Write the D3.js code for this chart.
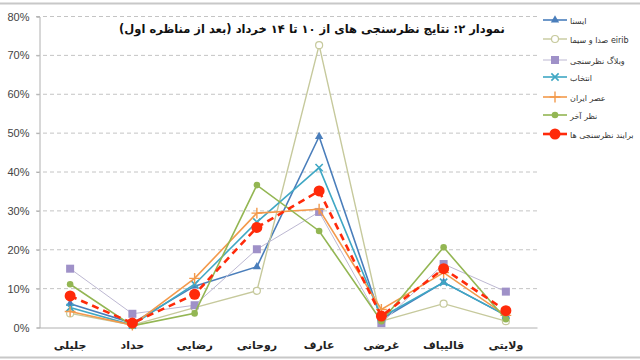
<!DOCTYPE html>
<html>
<head>
<meta charset="utf-8">
<script src="https://cdn.jsdelivr.net/npm/d3@7"></script>
<style>
  body { margin: 0; background: #fff; }
  svg { display: block; }
</style>
</head>
<body>
<div id="vizcontainer"></div>
<script>
const categories = ['جلیلی', 'حداد', 'رضایی', 'روحانی', 'عارف', 'غرضی', 'قالیباف', 'ولایتی'];
const seriesNames = ['ایسنا', 'صدا و سیما eirib', 'وبلاگ نظرسنجی', 'انتخاب', 'عصر ایران', 'نظر آخر', 'برایند نظرسنجی ها'];
const isna   = [6, 1, 10.5, 15.5, 49, 2, 11.5, 3];
const eirib  = [3.5, 0.5, 5, 9.3, 72.5, 1.5, 6, 1.5];
const weblog = [15, 3.4, 5.6, 20, 29.6, 1, 16.2, 9.1];
const entekhab = [5, 0.5, 11, 27, 41, 2.5, 11.5, 3];
const asrIran  = [4, 0.5, 12.5, 29.3, 30.3, 4.5, 14, 3];
const nazarAkhar = [11, 0.3, 3.5, 36.5, 24.7, 1.5, 20.5, 2];
const barayand   = [8, 1, 8.4, 25.6, 35, 2.8, 15, 4.2];
const yTicks = [0, 10, 20, 30, 40, 50, 60, 70, 80];
const title = 'نمودار ۲: نتایج نظرسنجی های از ۱۰ تا ۱۴ خرداد (بعد از مناظره اول)';

const width = 640, height = 360;
const fa = '"DejaVu Sans", sans-serif';

const styles = [
  { color: '#4a7ebb', marker: 'triangle', fill: '#4a7ebb', w: 1.6 },
  { color: '#c6c99c', marker: 'circle-open', fill: '#fff', w: 1.4 },
  { color: '#bdb8d2', marker: 'square', fill: '#9f91c8', w: 1 },
  { color: '#3fa7c4', marker: 'x', fill: '#3fa7c4', w: 1.6 },
  { color: '#f39a4c', marker: 'plus', fill: '#f39a4c', w: 1.6 },
  { color: '#93b653', marker: 'circle', fill: '#93b653', w: 1.6 },
  { color: '#ff2a0a', marker: 'dot', fill: '#ff2a0a', w: 2.6, dash: '7,5' }
];
const values = [isna, eirib, weblog, entekhab, asrIran, nazarAkhar, barayand];
const series = seriesNames.map((name, i) => ({ name, values: values[i], ...styles[i] }));

const svg = d3.select('#vizcontainer')
  .append('svg')
  .attr('width', width)
  .attr('height', height);

// frame lines
svg.append('line').attr('x1', 0).attr('x2', width).attr('y1', 3.5).attr('y2', 3.5)
  .attr('stroke', '#c8c8c8').attr('stroke-width', 2);
svg.append('line').attr('x1', 0).attr('x2', width).attr('y1', 357.5).attr('y2', 357.5)
  .attr('stroke', '#c8c8c8').attr('stroke-width', 2);

const x = d3.scaleBand()
  .domain(categories)
  .range([39, 537]);

const y = d3.scaleLinear()
  .domain([0, 80])
  .range([327, 16]);

// gridlines
svg.append('g')
  .selectAll('line')
  .data(yTicks.filter(d => d > 0))
  .join('line')
  .attr('x1', 36).attr('x2', 537)
  .attr('y1', d => y(d) + 0.5).attr('y2', d => y(d) + 0.5)
  .attr('stroke', '#c4c4c4')
  .attr('stroke-dasharray', '4,3');

// y axis
const yAxis = svg.append('g')
  .attr('transform', 'translate(39.5,0.5)')
  .call(d3.axisLeft(y).tickValues(yTicks).tickSize(3).tickFormat(d => d + '%'));
yAxis.select('.domain').attr('stroke', '#b0b0b0');
yAxis.selectAll('.tick line').attr('stroke', '#b0b0b0');
yAxis.selectAll('.tick text')
  .attr('x', -10)
  .attr('fill', '#444')
  .style('font-family', '"Liberation Sans", Arial, sans-serif')
  .style('font-size', '11px');

// x axis
const xAxis = svg.append('g')
  .attr('transform', `translate(0,${y(0) + 0.5})`)
  .call(d3.axisBottom(x).tickSize(0).tickPadding(14));
xAxis.select('.domain').attr('stroke', '#b0b0b0');
xAxis.selectAll('.tick text')
  .attr('fill', '#222')
  .style('font-family', fa)
  .style('font-weight', 'bold')
  .style('font-size', '11px');

const cx = d => x(d) + x.bandwidth() / 2;

function drawMarker(g, s, px, py) {
  if (s.marker === 'triangle') {
    g.append('path').attr('d', d3.symbol(d3.symbolTriangle, 30)()).attr('transform', `translate(${px},${py})`)
      .attr('fill', s.fill);
  } else if (s.marker === 'circle-open') {
    g.append('circle').attr('cx', px).attr('cy', py).attr('r', 3.5)
      .attr('fill', '#fff').attr('stroke', s.color).attr('stroke-width', 1.2);
  } else if (s.marker === 'square') {
    g.append('rect').attr('x', px - 4).attr('y', py - 4).attr('width', 8).attr('height', 8)
      .attr('fill', s.fill);
  } else if (s.marker === 'x') {
    g.append('path').attr('d', d3.symbol(d3.symbolX, 36)()).attr('transform', `translate(${px},${py})`)
      .attr('fill', 'none').attr('stroke', s.color).attr('stroke-width', 1.6);
  } else if (s.marker === 'plus') {
    g.append('path').attr('d', d3.symbol(d3.symbolPlus, 40)()).attr('transform', `translate(${px},${py})`)
      .attr('fill', 'none').attr('stroke', s.color).attr('stroke-width', 1.4);
  } else if (s.marker === 'circle') {
    g.append('circle').attr('cx', px).attr('cy', py).attr('r', 3.3).attr('fill', s.fill);
  } else if (s.marker === 'dot') {
    g.append('circle').attr('cx', px).attr('cy', py).attr('r', 5.5).attr('fill', s.fill);
  }
}

const line = d3.line()
  .x((d, i) => cx(categories[i]))
  .y(d => y(d));

series.forEach(s => {
  const g = svg.append('g');
  g.append('path')
    .datum(s.values)
    .attr('d', line)
    .attr('fill', 'none')
    .attr('stroke', s.color)
    .attr('stroke-width', s.w)
    .attr('stroke-dasharray', s.dash || null);
  s.values.forEach((v, i) => drawMarker(g, s, cx(categories[i]), y(v)));
});

// title
svg.append('text')
  .attr('x', 312).attr('y', 33)
  .attr('text-anchor', 'middle')
  .attr('direction', 'rtl')
  .style('font-family', fa)
  .style('font-weight', 'bold')
  .style('font-size', '11.5px')
  .attr('fill', '#111')
  .text(title);

// legend
const legendY = [20, 39, 60, 77, 97, 115, 134];
const legend = svg.append('g');
series.forEach((s, i) => {
  const g = legend.append('g');
  const ly = legendY[i];
  g.append('line').attr('x1', 543).attr('x2', 567).attr('y1', ly).attr('y2', ly)
    .attr('stroke', s.color).attr('stroke-width', s.w);
  drawMarker(g, s, 555, ly);
  g.append('text')
    .attr('x', 570).attr('y', ly + 4)
    .attr('text-anchor', 'start')
    .style('font-family', fa)
    .style('font-size', '8px')
    .attr('fill', '#333')
    .text(s.name);
});
</script>
</body>
</html>
